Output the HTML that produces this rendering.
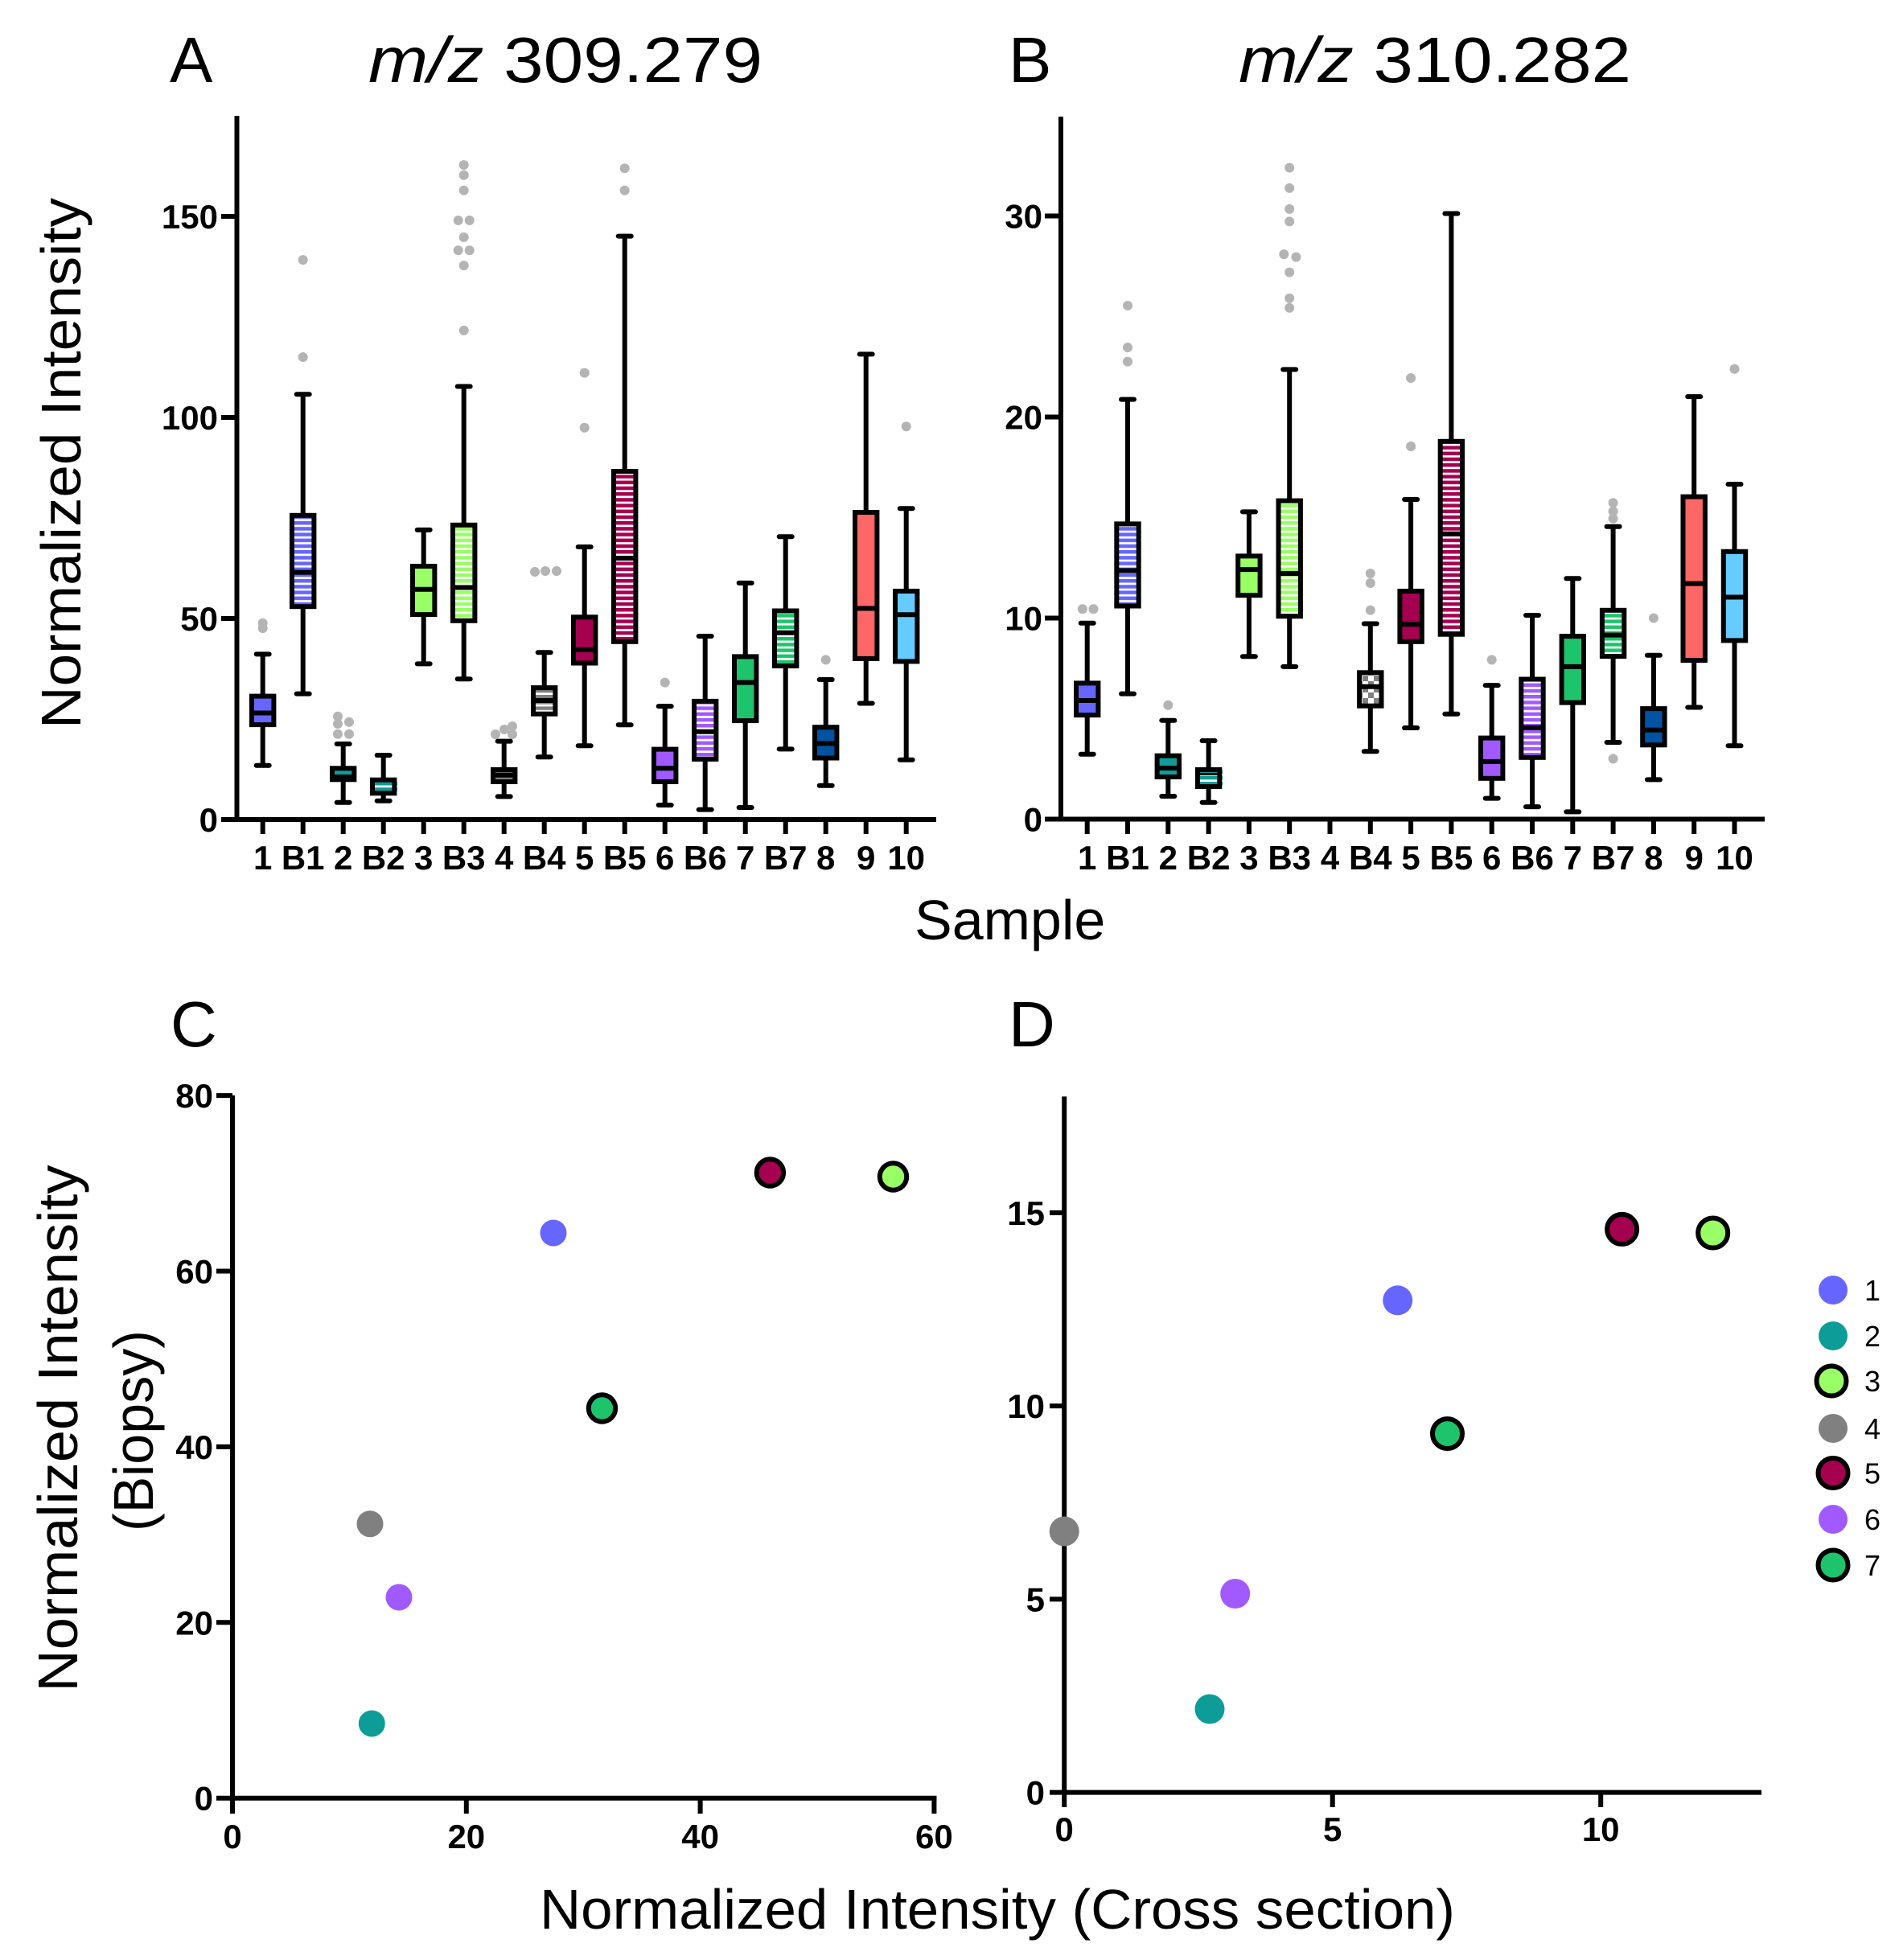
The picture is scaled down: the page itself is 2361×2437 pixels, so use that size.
<!DOCTYPE html>
<html>
<head>
<meta charset="utf-8">
<style>
html,body{margin:0;padding:0;background:#fff;}
svg{display:block;}
.k{stroke:#000;stroke-width:6;}
.r{stroke:#000;stroke-width:6;stroke-linecap:round;}
.ax{stroke:#000;stroke-width:6;fill:none;}
.tl{font-family:"Liberation Sans",Arial,sans-serif;font-weight:bold;font-size:42px;fill:#000;}
.lab{font-family:"Liberation Sans",Arial,sans-serif;font-size:70px;fill:#000;}
.ttl{font-family:"Liberation Sans",Arial,sans-serif;font-size:80px;fill:#000;}
.lg{font-family:"Liberation Sans",Arial,sans-serif;font-size:36px;fill:#000;}
.o{fill:#b4b4b4;}
</style>
</head>
<body>
<svg width="2361" height="2437" viewBox="0 0 2361 2437" xmlns="http://www.w3.org/2000/svg">
<defs>
<pattern id="s1" patternUnits="userSpaceOnUse" width="8" height="7.2"><rect width="8" height="7.2" fill="#fff"/><rect width="8" height="4.5" fill="#6666FF"/></pattern>
<pattern id="s2" patternUnits="userSpaceOnUse" width="8" height="7.2"><rect width="8" height="7.2" fill="#fff"/><rect width="8" height="4.5" fill="#0E9C99"/></pattern>
<pattern id="s3" patternUnits="userSpaceOnUse" width="8" height="7.2"><rect width="8" height="7.2" fill="#fff"/><rect width="8" height="4.5" fill="#99FF66"/></pattern>
<pattern id="s4" patternUnits="userSpaceOnUse" width="8" height="7.2"><rect width="8" height="7.2" fill="#fff"/><rect width="8" height="4.5" fill="#808080"/></pattern>
<pattern id="s5" patternUnits="userSpaceOnUse" width="8" height="7.2"><rect width="8" height="7.2" fill="#fff"/><rect width="8" height="4.5" fill="#A50050"/></pattern>
<pattern id="s6" patternUnits="userSpaceOnUse" width="8" height="7.2"><rect width="8" height="7.2" fill="#fff"/><rect width="8" height="4.5" fill="#A05AFF"/></pattern>
<pattern id="s7" patternUnits="userSpaceOnUse" width="8" height="7.2"><rect width="8" height="7.2" fill="#fff"/><rect width="8" height="4.5" fill="#1EC46C"/></pattern>
<pattern id="ck" patternUnits="userSpaceOnUse" width="14" height="14"><rect width="14" height="14" fill="#fff"/><rect width="7" height="7" fill="#808080"/><rect x="7" y="7" width="7" height="7" fill="#808080"/></pattern>
</defs>
<rect width="2361" height="2437" fill="#fff"/>

<!-- ================= Titles ================= -->
<text class="ttl" x="211" y="102">A</text>
<text class="ttl" x="458" y="102" textLength="490" lengthAdjust="spacingAndGlyphs"><tspan font-style="italic">m/z</tspan> 309.279</text>
<text class="ttl" x="1254" y="102">B</text>
<text class="ttl" x="1540" y="102" textLength="488" lengthAdjust="spacingAndGlyphs"><tspan font-style="italic">m/z</tspan> 310.282</text>

<!-- ================= Panel A ================= -->
<text class="lab" transform="translate(100,576) rotate(-90)" text-anchor="middle" textLength="660" lengthAdjust="spacingAndGlyphs">Normalized Intensity</text>
<line class="ax" x1="294.5" y1="144" x2="294.5" y2="1022"/>
<line class="ax" x1="275" y1="1019" x2="1164" y2="1019"/>
<line class="ax" x1="275" y1="769" x2="294.5" y2="769"/>
<line class="ax" x1="275" y1="519" x2="294.5" y2="519"/>
<line class="ax" x1="275" y1="269" x2="294.5" y2="269"/>
<text class="tl" x="271" y="1034" text-anchor="end">0</text>
<text class="tl" x="271" y="784" text-anchor="end">50</text>
<text class="tl" x="271" y="534" text-anchor="end">100</text>
<text class="tl" x="271" y="284" text-anchor="end">150</text>
<g class="ax">
<line x1="326.7" y1="1019" x2="326.7" y2="1037"/>
<line x1="376.7" y1="1019" x2="376.7" y2="1037"/>
<line x1="426.7" y1="1019" x2="426.7" y2="1037"/>
<line x1="476.7" y1="1019" x2="476.7" y2="1037"/>
<line x1="526.7" y1="1019" x2="526.7" y2="1037"/>
<line x1="576.7" y1="1019" x2="576.7" y2="1037"/>
<line x1="626.7" y1="1019" x2="626.7" y2="1037"/>
<line x1="676.7" y1="1019" x2="676.7" y2="1037"/>
<line x1="726.7" y1="1019" x2="726.7" y2="1037"/>
<line x1="776.7" y1="1019" x2="776.7" y2="1037"/>
<line x1="826.7" y1="1019" x2="826.7" y2="1037"/>
<line x1="876.7" y1="1019" x2="876.7" y2="1037"/>
<line x1="926.7" y1="1019" x2="926.7" y2="1037"/>
<line x1="976.7" y1="1019" x2="976.7" y2="1037"/>
<line x1="1026.7" y1="1019" x2="1026.7" y2="1037"/>
<line x1="1076.7" y1="1019" x2="1076.7" y2="1037"/>
<line x1="1126.7" y1="1019" x2="1126.7" y2="1037"/>
</g>
<g class="tl" text-anchor="middle">
<text x="326.7" y="1081">1</text>
<text x="376.7" y="1081">B1</text>
<text x="426.7" y="1081">2</text>
<text x="476.7" y="1081">B2</text>
<text x="526.7" y="1081">3</text>
<text x="576.7" y="1081">B3</text>
<text x="626.7" y="1081">4</text>
<text x="676.7" y="1081">B4</text>
<text x="726.7" y="1081">5</text>
<text x="776.7" y="1081">B5</text>
<text x="826.7" y="1081">6</text>
<text x="876.7" y="1081">B6</text>
<text x="926.7" y="1081">7</text>
<text x="976.7" y="1081">B7</text>
<text x="1026.7" y="1081">8</text>
<text x="1076.7" y="1081">9</text>
<text x="1126.7" y="1081">10</text>
</g>

<!-- A outliers -->
<g class="o">
<circle cx="326.7" cy="774.8" r="6"/><circle cx="326.7" cy="781.1" r="6"/>
<circle cx="376.7" cy="323.1" r="6"/><circle cx="376.7" cy="444" r="6"/>
<circle cx="420" cy="890.7" r="6"/><circle cx="420" cy="900" r="6"/><circle cx="434" cy="897.7" r="6"/><circle cx="420" cy="912.7" r="6"/><circle cx="434" cy="912.7" r="6"/>
<circle cx="576.7" cy="205.1" r="6"/><circle cx="576.7" cy="217.8" r="6"/><circle cx="576.7" cy="236.7" r="6"/><circle cx="569.7" cy="274" r="6"/><circle cx="583.7" cy="274" r="6"/><circle cx="576.7" cy="295" r="6"/><circle cx="569.7" cy="311.2" r="6"/><circle cx="583.7" cy="311.2" r="6"/><circle cx="576.7" cy="330.1" r="6"/><circle cx="576.7" cy="410.9" r="6"/>
<circle cx="616" cy="913" r="6"/><circle cx="627" cy="907" r="6"/><circle cx="637" cy="903" r="6"/><circle cx="637" cy="913" r="6"/>
<circle cx="665" cy="711" r="6"/><circle cx="678" cy="710" r="6"/><circle cx="692" cy="710" r="6"/>
<circle cx="726.7" cy="463.6" r="6"/><circle cx="726.7" cy="531.8" r="6"/>
<circle cx="776.7" cy="209.3" r="6"/><circle cx="776.7" cy="236.7" r="6"/>
<circle cx="826.7" cy="848.6" r="6"/>
<circle cx="1026.7" cy="820.4" r="6"/>
<circle cx="1126.7" cy="530.3" r="6"/>
</g>

<!-- A boxes -->
<!-- 1 -->
<line class="k" x1="326.7" y1="813.4" x2="326.7" y2="951.8"/>
<line class="r" x1="318.7" y1="813.4" x2="334.7" y2="813.4"/><line class="r" x1="318.7" y1="951.8" x2="334.7" y2="951.8"/>
<rect class="k" x="313" y="865.6" width="27.4" height="35.5" fill="#6666FF"/>
<line class="k" x1="313" y1="886.5" x2="340.4" y2="886.5"/>
<!-- B1 -->
<line class="k" x1="376.7" y1="490.3" x2="376.7" y2="862.6"/>
<line class="r" x1="368.7" y1="490.3" x2="384.7" y2="490.3"/><line class="r" x1="368.7" y1="862.6" x2="384.7" y2="862.6"/>
<rect x="363" y="640.8" width="30" height="113.4" fill="url(#s1)"/>
<rect class="k" x="363" y="640.8" width="27.4" height="113.4" fill="none"/>
<line class="k" x1="363" y1="711.6" x2="390.4" y2="711.6"/>
<!-- 2 -->
<line class="k" x1="426.7" y1="925" x2="426.7" y2="997.7"/>
<line class="r" x1="418.7" y1="925" x2="434.7" y2="925"/><line class="r" x1="418.7" y1="997.7" x2="434.7" y2="997.7"/>
<rect class="k" x="413" y="955.3" width="27.4" height="14" fill="#0E9C99"/>
<line class="k" x1="413" y1="966" x2="440.4" y2="966"/>
<!-- B2 -->
<line class="k" x1="476.7" y1="939" x2="476.7" y2="995.7"/>
<line class="r" x1="468.7" y1="939" x2="484.7" y2="939"/><line class="r" x1="468.7" y1="995.7" x2="484.7" y2="995.7"/>
<rect x="463" y="969.7" width="31" height="16.6" fill="url(#s2)"/>
<rect class="k" x="463" y="969.7" width="27.4" height="16.6" fill="none"/>
<!-- 3 -->
<line class="k" x1="526.7" y1="658.9" x2="526.7" y2="825.4"/>
<line class="r" x1="518.7" y1="658.9" x2="534.7" y2="658.9"/><line class="r" x1="518.7" y1="825.4" x2="534.7" y2="825.4"/>
<rect class="k" x="513" y="704" width="27.4" height="60.1" fill="#99FF66"/>
<line class="k" x1="513" y1="732.7" x2="540.4" y2="732.7"/>
<!-- B3 -->
<line class="k" x1="576.7" y1="480.5" x2="576.7" y2="844.3"/>
<line class="r" x1="568.7" y1="480.5" x2="584.7" y2="480.5"/><line class="r" x1="568.7" y1="844.3" x2="584.7" y2="844.3"/>
<rect x="563" y="652.8" width="30" height="119" fill="url(#s3)"/>
<rect class="k" x="563" y="652.8" width="27.4" height="119" fill="none"/>
<line class="k" x1="563" y1="730.5" x2="590.4" y2="730.5"/>
<!-- 4 -->
<line class="k" x1="626.7" y1="921.6" x2="626.7" y2="990.4"/>
<line class="r" x1="618.7" y1="921.6" x2="634.7" y2="921.6"/><line class="r" x1="618.7" y1="990.4" x2="634.7" y2="990.4"/>
<rect class="k" x="613" y="956.9" width="27.4" height="15.1" fill="#808080"/>
<line class="k" x1="613" y1="963.8" x2="640.4" y2="963.8"/>
<!-- B4 -->
<line class="k" x1="676.7" y1="811.3" x2="676.7" y2="941.3"/>
<line class="r" x1="668.7" y1="811.3" x2="684.7" y2="811.3"/><line class="r" x1="668.7" y1="941.3" x2="684.7" y2="941.3"/>
<rect x="663" y="855.1" width="30" height="32.6" fill="url(#s4)"/>
<rect class="k" x="663" y="855.1" width="27.4" height="32.6" fill="none"/>
<line class="k" x1="663" y1="871" x2="690.4" y2="871"/>
<!-- 5 -->
<line class="k" x1="726.7" y1="680" x2="726.7" y2="927.2"/>
<line class="r" x1="718.7" y1="680" x2="734.7" y2="680"/><line class="r" x1="718.7" y1="927.2" x2="734.7" y2="927.2"/>
<rect class="k" x="713" y="767.3" width="27.4" height="57.2" fill="#A50050"/>
<line class="k" x1="713" y1="807.8" x2="740.4" y2="807.8"/>
<!-- B5 -->
<line class="k" x1="776.7" y1="293.6" x2="776.7" y2="901.2"/>
<line class="r" x1="768.7" y1="293.6" x2="784.7" y2="293.6"/><line class="r" x1="768.7" y1="901.2" x2="784.7" y2="901.2"/>
<rect x="763" y="586" width="30" height="211.8" fill="url(#s5)"/>
<rect class="k" x="763" y="586" width="27.4" height="211.8" fill="none"/>
<line class="k" x1="763" y1="694" x2="790.4" y2="694"/>
<!-- 6 -->
<line class="k" x1="826.7" y1="878.1" x2="826.7" y2="1001"/>
<line class="r" x1="818.7" y1="878.1" x2="834.7" y2="878.1"/><line class="r" x1="818.7" y1="1001" x2="834.7" y2="1001"/>
<rect class="k" x="813" y="931.6" width="27.4" height="40.4" fill="#A05AFF"/>
<line class="k" x1="813" y1="955.3" x2="840.4" y2="955.3"/>
<!-- B6 -->
<line class="k" x1="876.7" y1="791" x2="876.7" y2="1006.6"/>
<line class="r" x1="868.7" y1="791" x2="884.7" y2="791"/><line class="r" x1="868.7" y1="1006.6" x2="884.7" y2="1006.6"/>
<rect x="863" y="871.9" width="30" height="72" fill="url(#s6)"/>
<rect class="k" x="863" y="871.9" width="27.4" height="72" fill="none"/>
<line class="k" x1="863" y1="909.7" x2="890.4" y2="909.7"/>
<!-- 7 -->
<line class="k" x1="926.7" y1="724.9" x2="926.7" y2="1004"/>
<line class="r" x1="918.7" y1="724.9" x2="934.7" y2="724.9"/><line class="r" x1="918.7" y1="1004" x2="934.7" y2="1004"/>
<rect class="k" x="913" y="816.4" width="27.4" height="79.7" fill="#1EC46C"/>
<line class="k" x1="913" y1="848.6" x2="940.4" y2="848.6"/>
<!-- B7 -->
<line class="k" x1="976.7" y1="667.3" x2="976.7" y2="931.4"/>
<line class="r" x1="968.7" y1="667.3" x2="984.7" y2="667.3"/><line class="r" x1="968.7" y1="931.4" x2="984.7" y2="931.4"/>
<rect x="963" y="759.5" width="30" height="68.5" fill="url(#s7)"/>
<rect class="k" x="963" y="759.5" width="27.4" height="68.5" fill="none"/>
<line class="k" x1="963" y1="786.7" x2="990.4" y2="786.7"/>
<!-- 8 -->
<line class="k" x1="1026.7" y1="845" x2="1026.7" y2="976.7"/>
<line class="r" x1="1018.7" y1="845" x2="1034.7" y2="845"/><line class="r" x1="1018.7" y1="976.7" x2="1034.7" y2="976.7"/>
<rect class="k" x="1013" y="904.2" width="27.4" height="38.3" fill="#0052A3"/>
<line class="k" x1="1013" y1="924.4" x2="1040.4" y2="924.4"/>
<!-- 9 -->
<line class="k" x1="1076.7" y1="440.4" x2="1076.7" y2="874.5"/>
<line class="r" x1="1068.7" y1="440.4" x2="1084.7" y2="440.4"/><line class="r" x1="1068.7" y1="874.5" x2="1084.7" y2="874.5"/>
<rect class="k" x="1063" y="637" width="27.4" height="181.9" fill="#FF6666"/>
<line class="k" x1="1063" y1="756.5" x2="1090.4" y2="756.5"/>
<!-- 10 -->
<line class="k" x1="1126.7" y1="632.2" x2="1126.7" y2="944.8"/>
<line class="r" x1="1118.7" y1="632.2" x2="1134.7" y2="632.2"/><line class="r" x1="1118.7" y1="944.8" x2="1134.7" y2="944.8"/>
<rect class="k" x="1113" y="735" width="27.4" height="87.4" fill="#66CCFF"/>
<line class="k" x1="1113" y1="764.3" x2="1140.4" y2="764.3"/>

<!-- ================= Panel B ================= -->
<line class="ax" x1="1319" y1="145" x2="1319" y2="1021.5"/>
<line class="ax" x1="1299" y1="1018.5" x2="2194" y2="1018.5"/>
<line class="ax" x1="1299" y1="768.5" x2="1319" y2="768.5"/>
<line class="ax" x1="1299" y1="518.5" x2="1319" y2="518.5"/>
<line class="ax" x1="1299" y1="268.5" x2="1319" y2="268.5"/>
<text class="tl" x="1296" y="1033.5" text-anchor="end">0</text>
<text class="tl" x="1296" y="783.5" text-anchor="end">10</text>
<text class="tl" x="1296" y="533.5" text-anchor="end">20</text>
<text class="tl" x="1296" y="283.5" text-anchor="end">30</text>
<g class="ax">
<line x1="1351.7" y1="1018.5" x2="1351.7" y2="1037"/>
<line x1="1402" y1="1018.5" x2="1402" y2="1037"/>
<line x1="1452.3" y1="1018.5" x2="1452.3" y2="1037"/>
<line x1="1502.6" y1="1018.5" x2="1502.6" y2="1037"/>
<line x1="1552.9" y1="1018.5" x2="1552.9" y2="1037"/>
<line x1="1603.2" y1="1018.5" x2="1603.2" y2="1037"/>
<line x1="1653.5" y1="1018.5" x2="1653.5" y2="1037"/>
<line x1="1703.8" y1="1018.5" x2="1703.8" y2="1037"/>
<line x1="1754.1" y1="1018.5" x2="1754.1" y2="1037"/>
<line x1="1804.4" y1="1018.5" x2="1804.4" y2="1037"/>
<line x1="1854.7" y1="1018.5" x2="1854.7" y2="1037"/>
<line x1="1905" y1="1018.5" x2="1905" y2="1037"/>
<line x1="1955.3" y1="1018.5" x2="1955.3" y2="1037"/>
<line x1="2005.6" y1="1018.5" x2="2005.6" y2="1037"/>
<line x1="2055.9" y1="1018.5" x2="2055.9" y2="1037"/>
<line x1="2106.2" y1="1018.5" x2="2106.2" y2="1037"/>
<line x1="2156.5" y1="1018.5" x2="2156.5" y2="1037"/>
</g>
<g class="tl" text-anchor="middle">
<text x="1351.7" y="1081">1</text>
<text x="1402" y="1081">B1</text>
<text x="1452.3" y="1081">2</text>
<text x="1502.6" y="1081">B2</text>
<text x="1552.9" y="1081">3</text>
<text x="1603.2" y="1081">B3</text>
<text x="1653.5" y="1081">4</text>
<text x="1703.8" y="1081">B4</text>
<text x="1754.1" y="1081">5</text>
<text x="1804.4" y="1081">B5</text>
<text x="1854.7" y="1081">6</text>
<text x="1905" y="1081">B6</text>
<text x="1955.3" y="1081">7</text>
<text x="2005.6" y="1081">B7</text>
<text x="2055.9" y="1081">8</text>
<text x="2106.2" y="1081">9</text>
<text x="2156.5" y="1081">10</text>
</g>

<!-- B outliers -->
<g class="o">
<circle cx="1345.9" cy="757.2" r="6"/><circle cx="1359.5" cy="757.2" r="6"/>
<circle cx="1402" cy="380" r="6"/><circle cx="1402" cy="432" r="6"/><circle cx="1402" cy="449.6" r="6"/>
<circle cx="1452.3" cy="876.7" r="6"/>
<circle cx="1603.2" cy="208.6" r="6"/><circle cx="1603.2" cy="233.9" r="6"/><circle cx="1603.2" cy="259.9" r="6"/><circle cx="1603.2" cy="275.4" r="6"/><circle cx="1596.3" cy="316.1" r="6"/><circle cx="1611.4" cy="319.6" r="6"/><circle cx="1603.2" cy="338.6" r="6"/><circle cx="1603.2" cy="370.9" r="6"/><circle cx="1603.2" cy="382.8" r="6"/>
<circle cx="1703.8" cy="713" r="6"/><circle cx="1703.8" cy="725" r="6"/><circle cx="1703.8" cy="758.6" r="6"/>
<circle cx="1754.1" cy="470" r="6"/><circle cx="1754.1" cy="555" r="6"/>
<circle cx="1854.7" cy="820.4" r="6"/>
<circle cx="2005.6" cy="625.2" r="6"/><circle cx="2005.6" cy="635.7" r="6"/><circle cx="2005.6" cy="644.8" r="6"/><circle cx="2005.6" cy="943.4" r="6"/>
<circle cx="2055.9" cy="768.5" r="6"/>
<circle cx="2156.5" cy="458.7" r="6"/>
</g>

<!-- B boxes -->
<!-- 1 -->
<line class="k" x1="1351.7" y1="774.8" x2="1351.7" y2="937.8"/>
<line class="r" x1="1343.7" y1="774.8" x2="1359.7" y2="774.8"/><line class="r" x1="1343.7" y1="937.8" x2="1359.7" y2="937.8"/>
<rect class="k" x="1338" y="849.4" width="27.4" height="39.7" fill="#6666FF"/>
<line class="k" x1="1338" y1="871" x2="1365.4" y2="871"/>
<!-- B1 -->
<line class="k" x1="1402" y1="496.6" x2="1402" y2="862.6"/>
<line class="r" x1="1394" y1="496.6" x2="1410" y2="496.6"/><line class="r" x1="1394" y1="862.6" x2="1410" y2="862.6"/>
<rect x="1388.3" y="651.4" width="30" height="102.1" fill="url(#s1)"/>
<rect class="k" x="1388.3" y="651.4" width="27.4" height="102.1" fill="none"/>
<line class="k" x1="1388.3" y1="709.5" x2="1415.7" y2="709.5"/>
<!-- 2 -->
<line class="k" x1="1452.3" y1="895.7" x2="1452.3" y2="990"/>
<line class="r" x1="1444.3" y1="895.7" x2="1460.3" y2="895.7"/><line class="r" x1="1444.3" y1="990" x2="1460.3" y2="990"/>
<rect class="k" x="1438.6" y="939.7" width="27.4" height="26.3" fill="#0E9C99"/>
<line class="k" x1="1438.6" y1="955" x2="1466" y2="955"/>
<!-- B2 -->
<line class="k" x1="1502.6" y1="921" x2="1502.6" y2="997.7"/>
<line class="r" x1="1494.6" y1="921" x2="1510.6" y2="921"/><line class="r" x1="1494.6" y1="997.7" x2="1510.6" y2="997.7"/>
<rect x="1488.9" y="957" width="31" height="21" fill="url(#s2)"/>
<rect class="k" x="1488.9" y="957" width="27.4" height="21" fill="none"/>
<line x1="1488.9" y1="962.5" x2="1516.3" y2="962.5" stroke="#000" stroke-width="3"/>
<!-- 3 -->
<line class="k" x1="1552.9" y1="636.4" x2="1552.9" y2="816.2"/>
<line class="r" x1="1544.9" y1="636.4" x2="1560.9" y2="636.4"/><line class="r" x1="1544.9" y1="816.2" x2="1560.9" y2="816.2"/>
<rect class="k" x="1539.2" y="691.4" width="27.4" height="48.8" fill="#99FF66"/>
<line class="k" x1="1539.2" y1="708.1" x2="1566.6" y2="708.1"/>
<!-- B3 -->
<line class="k" x1="1603.2" y1="459.4" x2="1603.2" y2="828.9"/>
<line class="r" x1="1595.2" y1="459.4" x2="1611.2" y2="459.4"/><line class="r" x1="1595.2" y1="828.9" x2="1611.2" y2="828.9"/>
<rect x="1589.5" y="622.6" width="30" height="143.6" fill="url(#s3)"/>
<rect class="k" x="1589.5" y="622.6" width="27.4" height="143.6" fill="none"/>
<line class="k" x1="1589.5" y1="713" x2="1616.9" y2="713"/>
<!-- B4 -->
<line class="k" x1="1703.8" y1="775.5" x2="1703.8" y2="934.3"/>
<line class="r" x1="1695.8" y1="775.5" x2="1711.8" y2="775.5"/><line class="r" x1="1695.8" y1="934.3" x2="1711.8" y2="934.3"/>
<rect x="1690.1" y="836.3" width="29" height="41.4" fill="url(#ck)"/>
<rect class="k" x="1690.1" y="836.3" width="27.4" height="41.4" fill="none"/>
<line class="k" x1="1690.1" y1="853.7" x2="1717.5" y2="853.7"/>
<!-- 5 -->
<line class="k" x1="1754.1" y1="621" x2="1754.1" y2="905"/>
<line class="r" x1="1746.1" y1="621" x2="1762.1" y2="621"/><line class="r" x1="1746.1" y1="905" x2="1762.1" y2="905"/>
<rect class="k" x="1740.4" y="735" width="27.4" height="62.8" fill="#A50050"/>
<line class="k" x1="1740.4" y1="776.2" x2="1767.8" y2="776.2"/>
<!-- B5 -->
<line class="k" x1="1804.4" y1="265.5" x2="1804.4" y2="887.7"/>
<line class="r" x1="1796.4" y1="265.5" x2="1812.4" y2="265.5"/><line class="r" x1="1796.4" y1="887.7" x2="1812.4" y2="887.7"/>
<rect x="1790.7" y="548.8" width="30" height="239.9" fill="url(#s5)"/>
<rect class="k" x="1790.7" y="548.8" width="27.4" height="239.9" fill="none"/>
<line class="k" x1="1790.7" y1="663.8" x2="1818.1" y2="663.8"/>
<!-- 6 -->
<line class="k" x1="1854.7" y1="852.1" x2="1854.7" y2="992.6"/>
<line class="r" x1="1846.7" y1="852.1" x2="1862.7" y2="852.1"/><line class="r" x1="1846.7" y1="992.6" x2="1862.7" y2="992.6"/>
<rect class="k" x="1841" y="917.6" width="27.4" height="50.2" fill="#A05AFF"/>
<line class="k" x1="1841" y1="946.9" x2="1868.4" y2="946.9"/>
<!-- B6 -->
<line class="k" x1="1905" y1="765" x2="1905" y2="1003.1"/>
<line class="r" x1="1897" y1="765" x2="1913" y2="765"/><line class="r" x1="1897" y1="1003.1" x2="1913" y2="1003.1"/>
<rect x="1891.3" y="844.5" width="30" height="97.3" fill="url(#s6)"/>
<rect class="k" x="1891.3" y="844.5" width="27.4" height="97.3" fill="none"/>
<line class="k" x1="1891.3" y1="904.7" x2="1918.7" y2="904.7"/>
<!-- 7 -->
<line class="k" x1="1955.3" y1="719.3" x2="1955.3" y2="1009.4"/>
<line class="r" x1="1947.3" y1="719.3" x2="1963.3" y2="719.3"/><line class="r" x1="1947.3" y1="1009.4" x2="1963.3" y2="1009.4"/>
<rect class="k" x="1941.6" y="791.1" width="27.4" height="82.5" fill="#1EC46C"/>
<line class="k" x1="1941.6" y1="828.9" x2="1969" y2="828.9"/>
<!-- B7 -->
<line class="k" x1="2005.6" y1="654.7" x2="2005.6" y2="923"/>
<line class="r" x1="1997.6" y1="654.7" x2="2013.6" y2="654.7"/><line class="r" x1="1997.6" y1="923" x2="2013.6" y2="923"/>
<rect x="1991.9" y="758.8" width="30" height="57.2" fill="url(#s7)"/>
<rect class="k" x="1991.9" y="758.8" width="27.4" height="57.2" fill="none"/>
<line class="k" x1="1991.9" y1="789.6" x2="2019.3" y2="789.6"/>
<!-- 8 -->
<line class="k" x1="2055.9" y1="814.8" x2="2055.9" y2="969.4"/>
<line class="r" x1="2047.9" y1="814.8" x2="2063.9" y2="814.8"/><line class="r" x1="2047.9" y1="969.4" x2="2063.9" y2="969.4"/>
<rect class="k" x="2042.2" y="881.1" width="27.4" height="45.2" fill="#0052A3"/>
<line class="k" x1="2042.2" y1="907.6" x2="2069.6" y2="907.6"/>
<!-- 9 -->
<line class="k" x1="2106.2" y1="493.1" x2="2106.2" y2="879.5"/>
<line class="r" x1="2098.2" y1="493.1" x2="2114.2" y2="493.1"/><line class="r" x1="2098.2" y1="879.5" x2="2114.2" y2="879.5"/>
<rect class="k" x="2092.5" y="617.6" width="27.4" height="203.4" fill="#FF6666"/>
<line class="k" x1="2092.5" y1="725.6" x2="2119.9" y2="725.6"/>
<!-- 10 -->
<line class="k" x1="2156.5" y1="602" x2="2156.5" y2="927.2"/>
<line class="r" x1="2148.5" y1="602" x2="2164.5" y2="602"/><line class="r" x1="2148.5" y1="927.2" x2="2164.5" y2="927.2"/>
<rect class="k" x="2142.8" y="685.8" width="27.4" height="110.6" fill="#66CCFF"/>
<line class="k" x1="2142.8" y1="742.5" x2="2170.2" y2="742.5"/>

<text class="lab" x="1137" y="1168">Sample</text>

<!-- ================= Panel C ================= -->
<text class="ttl" x="212" y="1301">C</text>
<text class="lab" transform="translate(96,1776) rotate(-90)" text-anchor="middle" textLength="655" lengthAdjust="spacingAndGlyphs">Normalized Intensity</text>
<text class="lab" transform="translate(190,1779) rotate(-90)" text-anchor="middle" textLength="250" lengthAdjust="spacingAndGlyphs">(Biopsy)</text>
<line class="ax" x1="289" y1="1362" x2="289" y2="2255"/>
<line class="ax" x1="269" y1="2235.7" x2="1164.5" y2="2235.7"/>
<line class="ax" x1="269" y1="2017.3" x2="289" y2="2017.3"/>
<line class="ax" x1="269" y1="1798.9" x2="289" y2="1798.9"/>
<line class="ax" x1="269" y1="1580.5" x2="289" y2="1580.5"/>
<line class="ax" x1="269" y1="1362.1" x2="289" y2="1362.1"/>
<line class="ax" x1="579.8" y1="2235.7" x2="579.8" y2="2255"/>
<line class="ax" x1="870.6" y1="2235.7" x2="870.6" y2="2255"/>
<line class="ax" x1="1161.4" y1="2235.7" x2="1161.4" y2="2255"/>
<g class="tl" text-anchor="end">
<text x="265" y="2250.7">0</text>
<text x="265" y="2032.3">20</text>
<text x="265" y="1813.9">40</text>
<text x="265" y="1595.5">60</text>
<text x="265" y="1377.1">80</text>
</g>
<g class="tl" text-anchor="middle">
<text x="289" y="2298">0</text>
<text x="579.8" y="2298">20</text>
<text x="870.6" y="2298">40</text>
<text x="1161.4" y="2298">60</text>
</g>
<circle cx="688" cy="1533" r="16.5" fill="#6666FF"/>
<circle cx="462.3" cy="2143" r="16.5" fill="#0E9C99"/>
<circle cx="460" cy="1894.7" r="16.5" fill="#808080"/>
<circle cx="496" cy="1986" r="16.5" fill="#A05AFF"/>
<circle cx="748.5" cy="1751" r="16.7" fill="#1EC46C" stroke="#000" stroke-width="6"/>
<circle cx="957.4" cy="1458" r="16.7" fill="#A50050" stroke="#000" stroke-width="6"/>
<circle cx="1110.5" cy="1463" r="16.7" fill="#99FF66" stroke="#000" stroke-width="6"/>

<!-- ================= Panel D ================= -->
<text class="ttl" x="1254" y="1301">D</text>
<line class="ax" x1="1323.2" y1="1363.4" x2="1323.2" y2="2247"/>
<line class="ax" x1="1305" y1="2228.6" x2="2190" y2="2228.6"/>
<line class="ax" x1="1305" y1="1988.4" x2="1323.2" y2="1988.4"/>
<line class="ax" x1="1305" y1="1748.1" x2="1323.2" y2="1748.1"/>
<line class="ax" x1="1305" y1="1507.9" x2="1323.2" y2="1507.9"/>
<line class="ax" x1="1656.7" y1="2228.6" x2="1656.7" y2="2247"/>
<line class="ax" x1="1990.2" y1="2228.6" x2="1990.2" y2="2247"/>
<g class="tl" text-anchor="end">
<text x="1299" y="2243.6">0</text>
<text x="1299" y="2003.4">5</text>
<text x="1299" y="1763.1">10</text>
<text x="1299" y="1522.9">15</text>
</g>
<g class="tl" text-anchor="middle">
<text x="1323.2" y="2289">0</text>
<text x="1656.7" y="2289">5</text>
<text x="1990.2" y="2289">10</text>
</g>
<circle cx="1737.7" cy="1616.8" r="18.5" fill="#6666FF"/>
<circle cx="1504" cy="2125" r="18.5" fill="#0E9C99"/>
<circle cx="1323.2" cy="1904" r="18.5" fill="#808080"/>
<circle cx="1535.7" cy="1981.5" r="18.5" fill="#A05AFF"/>
<circle cx="1799.5" cy="1782.6" r="18.5" fill="#1EC46C" stroke="#000" stroke-width="6"/>
<circle cx="2016.6" cy="1528.4" r="18.5" fill="#A50050" stroke="#000" stroke-width="6"/>
<circle cx="2129.7" cy="1533" r="18.5" fill="#99FF66" stroke="#000" stroke-width="6"/>

<!-- Legend -->
<circle cx="2279" cy="1604" r="18" fill="#6666FF"/>
<circle cx="2279" cy="1661" r="18" fill="#0E9C99"/>
<circle cx="2277" cy="1717" r="18.5" fill="#99FF66" stroke="#000" stroke-width="6"/>
<circle cx="2279" cy="1776" r="18" fill="#808080"/>
<circle cx="2279" cy="1831.5" r="18.5" fill="#A50050" stroke="#000" stroke-width="6"/>
<circle cx="2279" cy="1889" r="18" fill="#A05AFF"/>
<circle cx="2279" cy="1946" r="18.5" fill="#1EC46C" stroke="#000" stroke-width="6"/>
<g class="lg">
<text x="2318" y="1617">1</text>
<text x="2318" y="1674">2</text>
<text x="2318" y="1730">3</text>
<text x="2318" y="1789">4</text>
<text x="2318" y="1844.5">5</text>
<text x="2318" y="1902">6</text>
<text x="2318" y="1959">7</text>
</g>

<!-- Bottom axis label -->
<text class="lab" x="671" y="2398" textLength="1138" lengthAdjust="spacingAndGlyphs">Normalized Intensity (Cross section)</text>
</svg>
</body>
</html>
